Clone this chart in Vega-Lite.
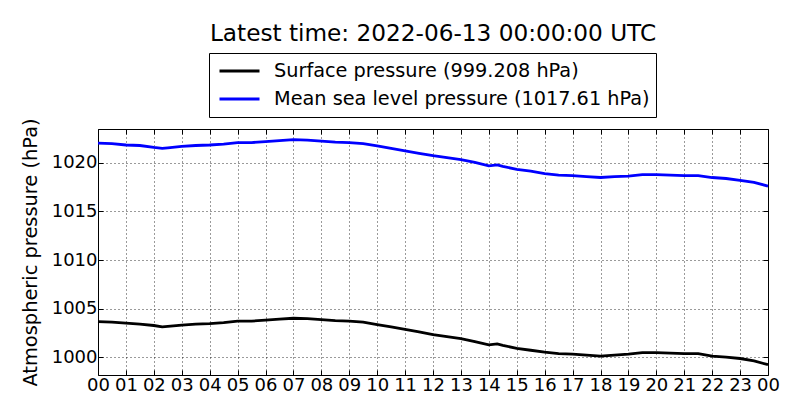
{
  "$schema": "https://vega.github.io/schema/vega-lite/v6.json",
  "width": 670,
  "height": 246,
  "autosize": {"type": "none"},
  "padding": {"left": 98, "top": 129, "right": 32, "bottom": 45},
  "title": {
    "text": "Latest time: 2022-06-13 00:00:00 UTC",
    "font": "DejaVu Sans",
    "fontSize": 23.2,
    "fontWeight": "normal",
    "color": "black",
    "anchor": "middle",
    "offset": 6
  },
  "data": {
    "values": [
      {"h": 0, "s": "Surface pressure (999.208 hPa)", "p": 1003.65},
      {"h": 0.5, "s": "Surface pressure (999.208 hPa)", "p": 1003.6},
      {"h": 1, "s": "Surface pressure (999.208 hPa)", "p": 1003.5},
      {"h": 1.5, "s": "Surface pressure (999.208 hPa)", "p": 1003.4},
      {"h": 2, "s": "Surface pressure (999.208 hPa)", "p": 1003.25},
      {"h": 2.3, "s": "Surface pressure (999.208 hPa)", "p": 1003.1},
      {"h": 2.5, "s": "Surface pressure (999.208 hPa)", "p": 1003.15},
      {"h": 3, "s": "Surface pressure (999.208 hPa)", "p": 1003.3},
      {"h": 3.5, "s": "Surface pressure (999.208 hPa)", "p": 1003.4},
      {"h": 4, "s": "Surface pressure (999.208 hPa)", "p": 1003.45},
      {"h": 4.5, "s": "Surface pressure (999.208 hPa)", "p": 1003.55},
      {"h": 5, "s": "Surface pressure (999.208 hPa)", "p": 1003.7},
      {"h": 5.5, "s": "Surface pressure (999.208 hPa)", "p": 1003.7},
      {"h": 6, "s": "Surface pressure (999.208 hPa)", "p": 1003.8},
      {"h": 6.5, "s": "Surface pressure (999.208 hPa)", "p": 1003.9},
      {"h": 7, "s": "Surface pressure (999.208 hPa)", "p": 1004.0},
      {"h": 7.5, "s": "Surface pressure (999.208 hPa)", "p": 1003.95},
      {"h": 8, "s": "Surface pressure (999.208 hPa)", "p": 1003.85},
      {"h": 8.5, "s": "Surface pressure (999.208 hPa)", "p": 1003.75},
      {"h": 9, "s": "Surface pressure (999.208 hPa)", "p": 1003.7},
      {"h": 9.5, "s": "Surface pressure (999.208 hPa)", "p": 1003.6},
      {"h": 10, "s": "Surface pressure (999.208 hPa)", "p": 1003.35},
      {"h": 10.5, "s": "Surface pressure (999.208 hPa)", "p": 1003.1},
      {"h": 11, "s": "Surface pressure (999.208 hPa)", "p": 1002.85},
      {"h": 11.5, "s": "Surface pressure (999.208 hPa)", "p": 1002.6},
      {"h": 12, "s": "Surface pressure (999.208 hPa)", "p": 1002.3},
      {"h": 12.5, "s": "Surface pressure (999.208 hPa)", "p": 1002.1},
      {"h": 13, "s": "Surface pressure (999.208 hPa)", "p": 1001.9},
      {"h": 13.5, "s": "Surface pressure (999.208 hPa)", "p": 1001.6},
      {"h": 14, "s": "Surface pressure (999.208 hPa)", "p": 1001.25},
      {"h": 14.3, "s": "Surface pressure (999.208 hPa)", "p": 1001.35},
      {"h": 14.5, "s": "Surface pressure (999.208 hPa)", "p": 1001.2},
      {"h": 15, "s": "Surface pressure (999.208 hPa)", "p": 1000.9},
      {"h": 15.5, "s": "Surface pressure (999.208 hPa)", "p": 1000.7},
      {"h": 16, "s": "Surface pressure (999.208 hPa)", "p": 1000.5},
      {"h": 16.5, "s": "Surface pressure (999.208 hPa)", "p": 1000.35},
      {"h": 17, "s": "Surface pressure (999.208 hPa)", "p": 1000.3},
      {"h": 17.5, "s": "Surface pressure (999.208 hPa)", "p": 1000.2},
      {"h": 18, "s": "Surface pressure (999.208 hPa)", "p": 1000.1},
      {"h": 18.5, "s": "Surface pressure (999.208 hPa)", "p": 1000.2},
      {"h": 19, "s": "Surface pressure (999.208 hPa)", "p": 1000.3},
      {"h": 19.5, "s": "Surface pressure (999.208 hPa)", "p": 1000.45},
      {"h": 20, "s": "Surface pressure (999.208 hPa)", "p": 1000.45},
      {"h": 20.5, "s": "Surface pressure (999.208 hPa)", "p": 1000.4},
      {"h": 21, "s": "Surface pressure (999.208 hPa)", "p": 1000.35},
      {"h": 21.5, "s": "Surface pressure (999.208 hPa)", "p": 1000.35},
      {"h": 22, "s": "Surface pressure (999.208 hPa)", "p": 1000.1},
      {"h": 22.5, "s": "Surface pressure (999.208 hPa)", "p": 1000.0},
      {"h": 23, "s": "Surface pressure (999.208 hPa)", "p": 999.85},
      {"h": 23.5, "s": "Surface pressure (999.208 hPa)", "p": 999.6},
      {"h": 24, "s": "Surface pressure (999.208 hPa)", "p": 999.21},
      {"h": 0, "s": "Mean sea level pressure (1017.61 hPa)", "p": 1022.05},
      {"h": 0.5, "s": "Mean sea level pressure (1017.61 hPa)", "p": 1022.0},
      {"h": 1, "s": "Mean sea level pressure (1017.61 hPa)", "p": 1021.85},
      {"h": 1.5, "s": "Mean sea level pressure (1017.61 hPa)", "p": 1021.8},
      {"h": 2, "s": "Mean sea level pressure (1017.61 hPa)", "p": 1021.6},
      {"h": 2.3, "s": "Mean sea level pressure (1017.61 hPa)", "p": 1021.5},
      {"h": 2.5, "s": "Mean sea level pressure (1017.61 hPa)", "p": 1021.55},
      {"h": 3, "s": "Mean sea level pressure (1017.61 hPa)", "p": 1021.7},
      {"h": 3.5, "s": "Mean sea level pressure (1017.61 hPa)", "p": 1021.8},
      {"h": 4, "s": "Mean sea level pressure (1017.61 hPa)", "p": 1021.85},
      {"h": 4.5, "s": "Mean sea level pressure (1017.61 hPa)", "p": 1021.95},
      {"h": 5, "s": "Mean sea level pressure (1017.61 hPa)", "p": 1022.1},
      {"h": 5.5, "s": "Mean sea level pressure (1017.61 hPa)", "p": 1022.1},
      {"h": 6, "s": "Mean sea level pressure (1017.61 hPa)", "p": 1022.2},
      {"h": 6.5, "s": "Mean sea level pressure (1017.61 hPa)", "p": 1022.3},
      {"h": 7, "s": "Mean sea level pressure (1017.61 hPa)", "p": 1022.4},
      {"h": 7.5, "s": "Mean sea level pressure (1017.61 hPa)", "p": 1022.35},
      {"h": 8, "s": "Mean sea level pressure (1017.61 hPa)", "p": 1022.25},
      {"h": 8.5, "s": "Mean sea level pressure (1017.61 hPa)", "p": 1022.15},
      {"h": 9, "s": "Mean sea level pressure (1017.61 hPa)", "p": 1022.1},
      {"h": 9.5, "s": "Mean sea level pressure (1017.61 hPa)", "p": 1022.0},
      {"h": 10, "s": "Mean sea level pressure (1017.61 hPa)", "p": 1021.75},
      {"h": 10.5, "s": "Mean sea level pressure (1017.61 hPa)", "p": 1021.5},
      {"h": 11, "s": "Mean sea level pressure (1017.61 hPa)", "p": 1021.25},
      {"h": 11.5, "s": "Mean sea level pressure (1017.61 hPa)", "p": 1021.0},
      {"h": 12, "s": "Mean sea level pressure (1017.61 hPa)", "p": 1020.75},
      {"h": 12.5, "s": "Mean sea level pressure (1017.61 hPa)", "p": 1020.55},
      {"h": 13, "s": "Mean sea level pressure (1017.61 hPa)", "p": 1020.35},
      {"h": 13.5, "s": "Mean sea level pressure (1017.61 hPa)", "p": 1020.05},
      {"h": 14, "s": "Mean sea level pressure (1017.61 hPa)", "p": 1019.7},
      {"h": 14.3, "s": "Mean sea level pressure (1017.61 hPa)", "p": 1019.8},
      {"h": 14.5, "s": "Mean sea level pressure (1017.61 hPa)", "p": 1019.65},
      {"h": 15, "s": "Mean sea level pressure (1017.61 hPa)", "p": 1019.35},
      {"h": 15.5, "s": "Mean sea level pressure (1017.61 hPa)", "p": 1019.15},
      {"h": 16, "s": "Mean sea level pressure (1017.61 hPa)", "p": 1018.9},
      {"h": 16.5, "s": "Mean sea level pressure (1017.61 hPa)", "p": 1018.75},
      {"h": 17, "s": "Mean sea level pressure (1017.61 hPa)", "p": 1018.7},
      {"h": 17.5, "s": "Mean sea level pressure (1017.61 hPa)", "p": 1018.6},
      {"h": 18, "s": "Mean sea level pressure (1017.61 hPa)", "p": 1018.5},
      {"h": 18.5, "s": "Mean sea level pressure (1017.61 hPa)", "p": 1018.6},
      {"h": 19, "s": "Mean sea level pressure (1017.61 hPa)", "p": 1018.65},
      {"h": 19.5, "s": "Mean sea level pressure (1017.61 hPa)", "p": 1018.8},
      {"h": 20, "s": "Mean sea level pressure (1017.61 hPa)", "p": 1018.8},
      {"h": 20.5, "s": "Mean sea level pressure (1017.61 hPa)", "p": 1018.75},
      {"h": 21, "s": "Mean sea level pressure (1017.61 hPa)", "p": 1018.7},
      {"h": 21.5, "s": "Mean sea level pressure (1017.61 hPa)", "p": 1018.7},
      {"h": 22, "s": "Mean sea level pressure (1017.61 hPa)", "p": 1018.5},
      {"h": 22.5, "s": "Mean sea level pressure (1017.61 hPa)", "p": 1018.4},
      {"h": 23, "s": "Mean sea level pressure (1017.61 hPa)", "p": 1018.2},
      {"h": 23.5, "s": "Mean sea level pressure (1017.61 hPa)", "p": 1018.0},
      {"h": 24, "s": "Mean sea level pressure (1017.61 hPa)", "p": 1017.61}
    ]
  },
  "layer": [
    {
      "mark": {"type": "line", "strokeWidth": 2.8},
      "encoding": {
        "x": {
          "field": "h",
          "type": "quantitative",
          "scale": {"domain": [0, 24], "nice": false, "zero": false},
          "axis": {
            "title": null,
            "values": [0, 1, 2, 3, 4, 5, 6, 7, 8, 9, 10, 11, 12, 13, 14, 15, 16, 17, 18, 19, 20, 21, 22, 23, 24],
            "labelExpr": "(datum.value % 24 < 10 ? '0' : '') + (datum.value % 24)",
            "labelOverlap": false,
            "labelFlush": false,
            "labelPadding": 6
          }
        },
        "y": {
          "field": "p",
          "type": "quantitative",
          "scale": {"domain": [998.15, 1023.5], "nice": false, "zero": false},
          "axis": {
            "title": "Atmospheric pressure (hPa)",
            "values": [1000, 1005, 1010, 1015, 1020],
            "format": "d",
            "titlePadding": 11,
            "labelPadding": 6
          }
        },
        "color": {
          "field": "s",
          "type": "nominal",
          "scale": {
            "domain": ["Surface pressure (999.208 hPa)", "Mean sea level pressure (1017.61 hPa)"],
            "range": ["#000000", "#0000ff"]
          },
          "legend": {
            "title": null,
            "orient": "none",
            "legendX": 111,
            "legendY": -76,
            "symbolType": "stroke",
            "symbolSize": 1600,
            "symbolStrokeWidth": 2.8,
            "symbolOffset": 3,
            "clipHeight": 24,
            "labelFont": "DejaVu Sans",
            "labelFontSize": 19.3,
            "labelColor": "black",
            "labelOffset": 13,
            "labelLimit": 500,
            "rowPadding": 4,
            "padding": 6,
            "strokeColor": "black",
            "fillColor": "white"
          }
        }
      }
    },
    {
      "mark": {"type": "line", "opacity": 0},
      "encoding": {
        "x": {
          "field": "h",
          "type": "quantitative",
          "axis": {
            "orient": "top",
            "title": null,
            "labels": false,
            "grid": false,
            "values": [0, 1, 2, 3, 4, 5, 6, 7, 8, 9, 10, 11, 12, 13, 14, 15, 16, 17, 18, 19, 20, 21, 22, 23, 24]
          }
        },
        "y": {
          "field": "p",
          "type": "quantitative",
          "axis": {
            "orient": "right",
            "title": null,
            "labels": false,
            "grid": false,
            "values": [1000, 1005, 1010, 1015, 1020]
          }
        },
        "detail": {"field": "s"}
      }
    }
  ],
  "resolve": {"axis": {"x": "independent", "y": "independent"}},
  "config": {
    "font": "DejaVu Sans",
    "view": {"stroke": "black", "strokeWidth": 1},
    "axis": {
      "domain": false,
      "grid": true,
      "gridColor": "black",
      "gridDash": [1, 3],
      "gridWidth": 0.8,
      "gridOpacity": 1,
      "ticks": true,
      "tickColor": "black",
      "tickSize": -5,
      "tickWidth": 1,
      "labelFont": "DejaVu Sans",
      "labelFontSize": 18,
      "labelColor": "black",
      "titleFont": "DejaVu Sans",
      "titleFontSize": 19.4,
      "titleFontWeight": "normal",
      "titleColor": "black"
    }
  }
}
